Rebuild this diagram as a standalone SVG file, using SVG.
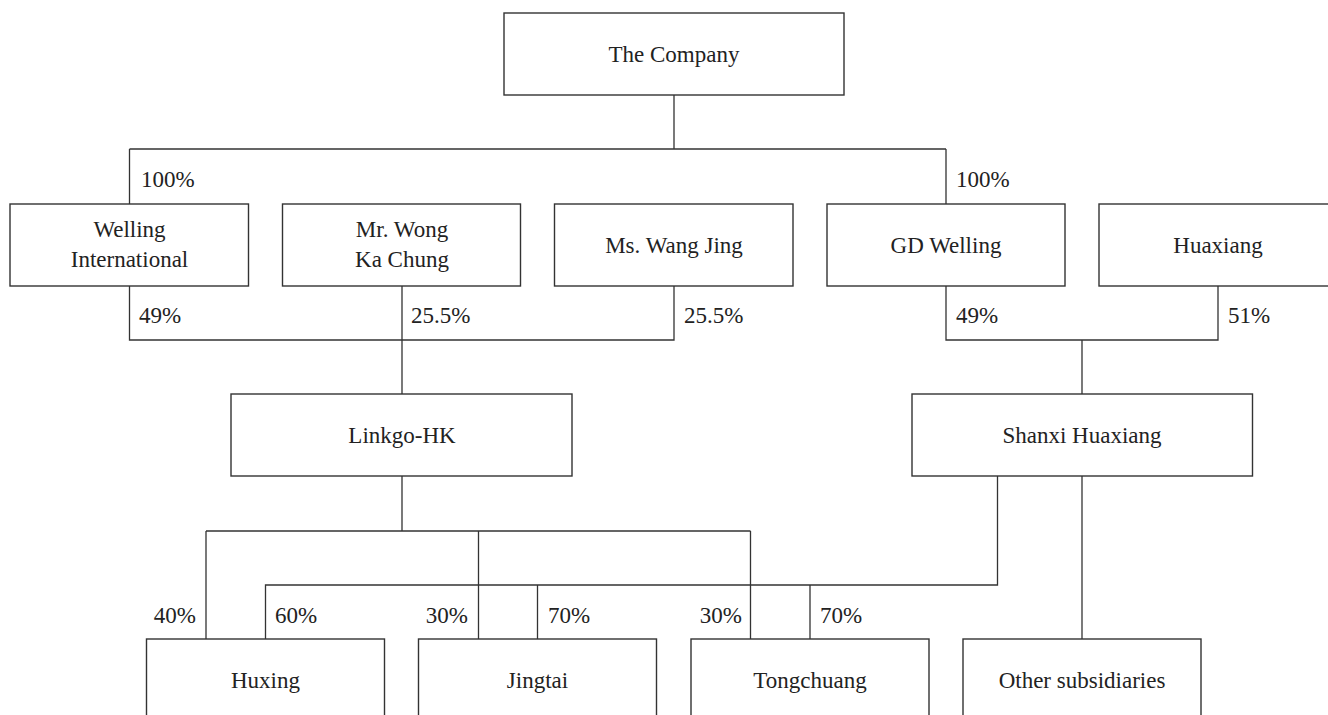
<svg xmlns="http://www.w3.org/2000/svg" width="1328" height="715" viewBox="0 0 1328 715">
<style>
.box{fill:#fff;stroke:#333;stroke-width:1.4}
.ln{fill:none;stroke:#333;stroke-width:1.3}
text{font-family:"Liberation Serif","Times New Roman",serif;font-size:23px;fill:#222}
.c{text-anchor:middle}
.e{text-anchor:end}
</style>
<rect width="1328" height="715" fill="#fff"/>
<g id="connectors">
<path class="ln" d="M674 95V149M129.5 149H946M129.5 149V204M946 149V204"/>
<path class="ln" d="M129.5 286V340H674V286M402 286V394"/>
<path class="ln" d="M946 286V340H1218V286M1082 340V394"/>
<path class="ln" d="M402 476V531M206 531H750.5M206 531V639M478.5 531V639M750.5 531V639"/>
<path class="ln" d="M997.5 476V585H265.5V639M537.5 585V639M810 585V639"/>
<path class="ln" d="M1082 476V639"/>
</g>
<g id="labels">
<text x="141" y="187">100%</text>
<text x="956" y="187">100%</text>
<text x="139" y="323">49%</text>
<text x="411" y="323">25.5%</text>
<text x="684" y="323">25.5%</text>
<text x="956" y="323">49%</text>
<text x="1228" y="323">51%</text>
<text class="e" x="196" y="623">40%</text>
<text x="275" y="623">60%</text>
<text class="e" x="468" y="623">30%</text>
<text x="548" y="623">70%</text>
<text class="e" x="742" y="623">30%</text>
<text x="820" y="623">70%</text>
</g>
<g id="the-company"><rect class="box" x="504" y="13" width="340" height="82"/><text class="c" x="674" y="62">The Company</text></g>
<g id="welling-international"><rect class="box" x="10" y="204" width="238.5" height="82"/><text class="c" x="129.5" y="237">Welling</text><text class="c" x="129.5" y="267">International</text></g>
<g id="mr-wong"><rect class="box" x="282.5" y="204" width="238" height="82"/><text class="c" x="402" y="237">Mr. Wong</text><text class="c" x="402" y="267">Ka Chung</text></g>
<g id="ms-wang"><rect class="box" x="554.5" y="204" width="238.5" height="82"/><text class="c" x="674" y="253">Ms. Wang Jing</text></g>
<g id="gd-welling"><rect class="box" x="827" y="204" width="238" height="82"/><text class="c" x="946" y="253">GD Welling</text></g>
<g id="huaxiang"><rect class="box" x="1099" y="204" width="238" height="82"/><text class="c" x="1218" y="253">Huaxiang</text></g>
<g id="linkgo-hk"><rect class="box" x="231" y="394" width="341" height="82"/><text class="c" x="402" y="443">Linkgo-HK</text></g>
<g id="shanxi-huaxiang"><rect class="box" x="912" y="394" width="340.5" height="82"/><text class="c" x="1082" y="443">Shanxi Huaxiang</text></g>
<g id="huxing"><rect class="box" x="146.5" y="639" width="238" height="82"/><text class="c" x="265.5" y="688">Huxing</text></g>
<g id="jingtai"><rect class="box" x="418.5" y="639" width="238" height="82"/><text class="c" x="537.5" y="688">Jingtai</text></g>
<g id="tongchuang"><rect class="box" x="691" y="639" width="238" height="82"/><text class="c" x="810" y="688">Tongchuang</text></g>
<g id="other-subsidiaries"><rect class="box" x="963" y="639" width="238" height="82"/><text class="c" x="1082" y="688">Other subsidiaries</text></g>
</svg>
